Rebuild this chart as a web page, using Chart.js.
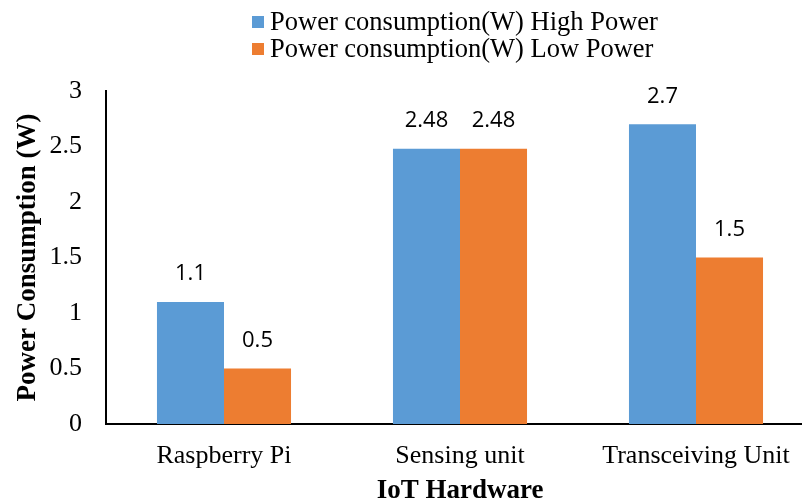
<!DOCTYPE html>
<html><head><meta charset="utf-8">
<script src="https://cdn.jsdelivr.net/npm/chart.js@4"></script>
<style>html,body{margin:0;padding:0;background:#fff;overflow:hidden;width:802px;height:504px}</style>
</head><body>
<canvas id="c" width="816" height="504" style="width:816px;height:504px;display:block"></canvas>
<script>
const categories = ["Raspberry Pi", "Sensing unit", "Transceiving Unit"];
const seriesNames = ["Power consumption(W) High Power", "Power consumption(W) Low Power"];
const highPower = [1.1, 2.48, 2.7];
const lowPower = [0.5, 2.48, 1.5];
const yTicks = [0, 0.5, 1, 1.5, 2, 2.5, 3];
const colors = ["#5B9BD5", "#ED7D31"];
const serif = "'Liberation Serif', 'Times New Roman', serif";

const legendPlugin = {
  id: 'customLegend',
  afterDraw(chart) {
    const ctx = chart.ctx;
    ctx.save();
    ctx.font = "26.5px " + serif;
    ctx.textBaseline = 'middle';
    ctx.textAlign = 'left';
    chart.data.datasets.forEach((ds, i) => {
      const y = 22 + i * 27;
      ctx.fillStyle = ds.backgroundColor;
      ctx.fillRect(252, y - 6, 12, 12);
      ctx.fillStyle = '#000';
      ctx.fillText(ds.label, 270, y + 1);
    });
    ctx.restore();
  }
};

const labelPlugin = {
  id: 'valueLabels',
  afterDatasetsDraw(chart) {
    const ctx = chart.ctx;
    ctx.save();
    ctx.font = "22px 'Open Sans', 'Liberation Sans', sans-serif";
    ctx.fillStyle = '#000';
    ctx.textAlign = 'center';
    ctx.textBaseline = 'middle';
    chart.data.datasets.forEach((ds, di) => {
      chart.getDatasetMeta(di).data.forEach((bar, i) => {
        ctx.fillText(String(ds.data[i]), bar.x, bar.y - 28);
      });
    });
    ctx.restore();
  }
};

new Chart(document.getElementById('c'), {
  type: 'bar',
  data: {
    labels: categories,
    datasets: [
      { label: seriesNames[0], data: highPower, backgroundColor: colors[0] },
      { label: seriesNames[1], data: lowPower, backgroundColor: colors[1] }
    ]
  },
  options: {
    responsive: false,
    animation: false,
    devicePixelRatio: 1,
    layout: { padding: { top: 91, right: 2, left: 0, bottom: 0 } },
    plugins: { legend: { display: false }, tooltip: { enabled: false } },
    datasets: { bar: { barPercentage: 1, categoryPercentage: 0.568 } },
    scales: {
      x: {
        grid: { display: false, drawTicks: false },
        border: { display: true, color: '#000', width: 2 },
        ticks: { color: '#000', font: { family: serif, size: 26 }, padding: 17 },
        title: { display: true, text: 'IoT Hardware', color: '#000', font: { family: serif, size: 27, weight: 'bold', lineHeight: 0.95 }, padding: { top: 0, bottom: 0 } },
        afterFit(s) { s.height = 80; }
      },
      y: {
        min: 0, max: 3,
        afterBuildTicks(s) { s.ticks = yTicks.map(v => ({ value: v })); },
        grid: { display: false, drawTicks: false },
        border: { display: true, color: '#000', width: 2 },
        ticks: { color: '#000', font: { family: serif, size: 26 }, padding: 24, callback: v => String(v) },
        title: { display: true, text: 'Power Consumption (W)', color: '#000', font: { family: serif, size: 27, weight: 'bold' }, padding: { top: 12, bottom: 0 } },
        afterFit(s) { s.width = 106; }
      }
    }
  },
  plugins: [legendPlugin, labelPlugin]
});
</script>
</body></html>
